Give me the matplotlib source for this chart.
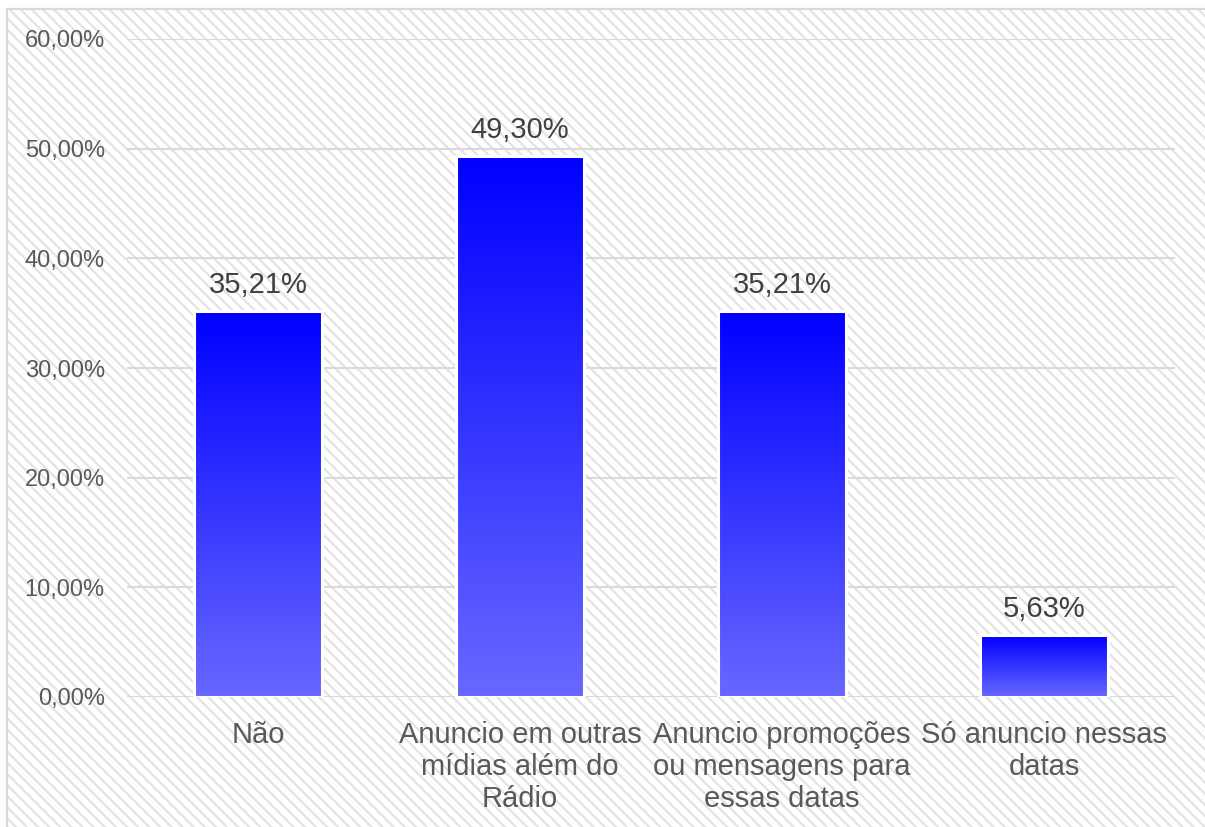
import numpy as np
import matplotlib.pyplot as plt
from matplotlib.patches import Rectangle

categories = ["Não",
              "Anuncio em outras\nmídias além do\nRádio",
              "Anuncio promoções\nou mensagens para\nessas datas",
              "Só anuncio nessas\ndatas"]
values = [35.21, 49.30, 35.21, 5.63]
yticks = [0, 10, 20, 30, 40, 50, 60]

plt.rcParams['font.family'] = ['Liberation Sans', 'DejaVu Sans']
plt.rcParams['hatch.linewidth'] = 1.6

W, H = 1205, 827
fig = plt.figure(figsize=(W / 100, H / 100), dpi=100)
fig.patch.set_facecolor('white')

# hatched background of the chart area (left/top border only, rest cropped)
x0, y0 = 7 / W, 1 - 9 / H
bg = Rectangle((x0, 0), 1 - x0 + 0.01, y0, transform=fig.transFigure,
               facecolor='white', edgecolor='#e3e3e3', hatch='\\\\\\', lw=0, zorder=-10)
fig.patches.append(bg)
fig.add_artist(plt.Line2D([x0, x0], [0, y0], transform=fig.transFigure, color='#d9d9d9', lw=1.6))
fig.add_artist(plt.Line2D([x0, 1], [y0, y0], transform=fig.transFigure, color='#d9d9d9', lw=1.6))

ax = fig.add_axes([127 / W, 1 - 697 / H, (1175 - 127) / W, (697 - 39) / H])
ax.set_facecolor('none')
x = np.arange(len(categories))
width = 0.49
bars = ax.bar(x, values, width, facecolor='none', edgecolor='white', lw=2.2, zorder=3)

# vertical gradient in every bar: dark blue top -> lighter blue bottom
grad = np.linspace(0, 1, 256).reshape(-1, 1)
top = np.array([0, 0, 255]) / 255
bot = np.array([104, 104, 255]) / 255
img = (top[None, None, :] * (1 - grad[..., None]) + bot[None, None, :] * grad[..., None])
for b, v in zip(bars, values):
    bx = b.get_x()
    im = ax.imshow(img, extent=[bx, bx + width, 0, v], aspect='auto', origin='upper', zorder=2)
    im.set_clip_path(b)
    ax.annotate(f"{v:.2f}%".replace('.', ','), (bx + width / 2, v), xytext=(0, 13),
                textcoords='offset points', ha='center', va='baseline',
                fontsize=21, color='#404040')

ax.set_xlim(-0.5, len(categories) - 0.5)
ax.set_ylim(0, 60)
ax.set_yticks(yticks)
ax.set_yticklabels([f"{t:.2f}%".replace('.', ',') for t in yticks], fontsize=17, color='#595959')
ax.set_xticks(x)
ax.set_xticklabels(categories, fontsize=21, color='#595959', linespacing=1.2)
ax.tick_params(axis='y', length=0, pad=16)
ax.tick_params(axis='x', length=0, pad=17)
ax.grid(axis='y', color='#d9d9d9', lw=1.5, zorder=0)
ax.set_axisbelow(True)
for s in ax.spines.values():
    s.set_visible(False)

fig.savefig('out.png', dpi=100)
